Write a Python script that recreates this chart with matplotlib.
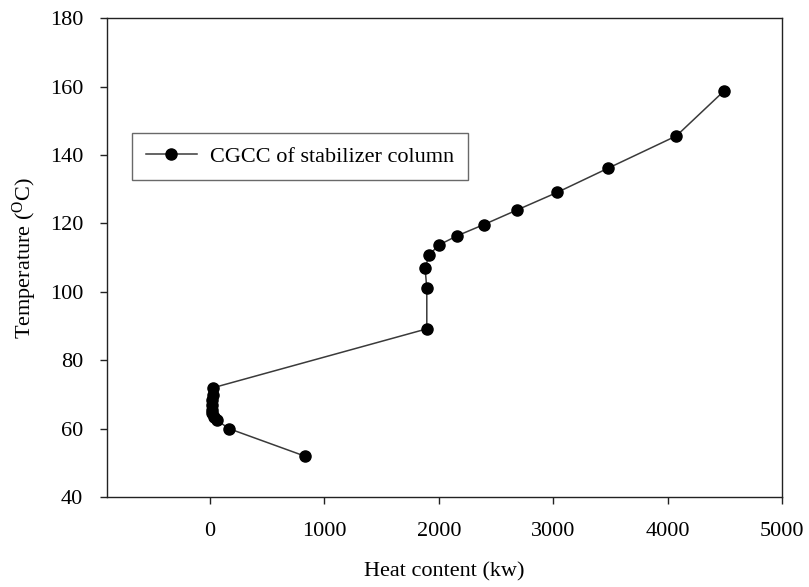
import matplotlib
matplotlib.use('Agg')
from matplotlib import pyplot as plt

plt.rcParams['font.family'] = 'Liberation Serif'
plt.rcParams['mathtext.fontset'] = 'stix'

# Composite grand composite curve of the stabilizer column
heat_kw = [830, 170, 60, 35, 20, 15, 18, 20, 25, 30,
           1895, 1895, 1880, 1915, 2000, 2160, 2395, 2680, 3035, 3475, 4075, 4490]
temp_c = [52, 60, 62.5, 63.5, 64.5, 65.5, 67, 68.5, 70, 72,
          89.2, 101.1, 106.9, 110.8, 113.7, 116.4, 119.7, 123.9, 129.1, 136.1, 145.6, 158.7]

xticks = [0, 1000, 2000, 3000, 4000, 5000]
yticks = [40, 60, 80, 100, 120, 140, 160, 180]

fig = plt.figure(figsize=(8.09, 5.87), dpi=100)
ax = fig.add_axes([0.132, 0.153, 0.835, 0.816])

ax.plot(heat_kw, temp_c, '-', color='#3a3a3a', lw=1.1,
        marker='o', markersize=8, markerfacecolor='black', markeredgecolor='black',
        label='CGCC of stabilizer column')

ax.set_xlim(-900, 5000)
ax.set_ylim(40, 180)
ax.set_xticks(xticks)
ax.set_yticks(yticks)
ax.tick_params(direction='out', length=5, width=1, labelsize=16, color='#222222')
ax.tick_params(axis='x', pad=13)
ax.tick_params(axis='y', pad=12)
for sp in ax.spines.values():
    sp.set_color('#222222')
    sp.set_linewidth(1)

ax.set_xlabel('Heat content (kw)', fontsize=16, labelpad=15)
ax.set_ylabel(r'Temperature ($\mathregular{^{O}}$C)', fontsize=16, labelpad=8)

leg = ax.legend(loc='upper left', bbox_to_anchor=(0.038, 0.760), borderaxespad=0,
                fontsize=16, fancybox=False, edgecolor='#444444', handlelength=2.3,
                borderpad=0.6, handletextpad=0.6)
leg.get_frame().set_linewidth(1)

fig.savefig('out.png', dpi=100)
